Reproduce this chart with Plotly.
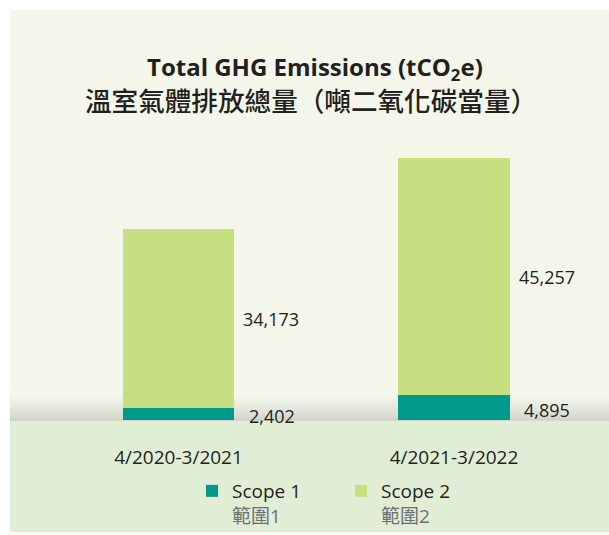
import plotly.graph_objects as go

periods = ["4/2020-3/2021", "4/2021-3/2022"]
scope1 = [2402, 4895]
scope2 = [34173, 45257]
scope1_labels = ["2,402", "4,895"]
scope2_labels = ["34,173", "45,257"]

TEAL = "#00998a"
LIME = "#c6df80"
TOP_BG = "#f3f6e9"
BOT_BG = "#e1eed6"
TXT = "#231f20"
GREY = "#6d6e71"
FONT = "Open Sans, Noto Sans CJK TC, sans-serif"

W, H = 609, 535
# panel (plot area) in window pixels: x 10..609, y 10..535
PL, PT, PR, PB = 10, 10, 609, 535
PW, PH = PR - PL, PB - PT


def yp(pix):
    return (PB - pix) / PH


def xp(pix):
    return (pix - PL) / PW


BAR_W = 0.403
x_idx = [0, 1]

fig = go.Figure()
fig.add_trace(go.Bar(
    x=x_idx, y=scope1, width=BAR_W, marker=dict(color=TEAL, line=dict(width=0)),
    name="Scope 1<br><span style='color:%s'>範圍1</span>" % GREY, hoverinfo="skip"))
fig.add_trace(go.Bar(
    x=x_idx, y=scope2, width=BAR_W, marker=dict(color=LIME, line=dict(width=0)),
    name="Scope 2<br><span style='color:%s'>範圍2</span>" % GREY, hoverinfo="skip"))

shapes = []
shapes.append(dict(type="rect", xref="paper", yref="paper", x0=0, x1=1, y0=yp(394), y1=1,
                   fillcolor=TOP_BG, line=dict(width=0), layer="below"))
shapes.append(dict(type="rect", xref="paper", yref="paper", x0=0, x1=1, y0=0, y1=yp(423),
                   fillcolor=BOT_BG, line=dict(width=0), layer="below"))
g0, g1 = 394, 423
c_top = (243, 246, 233)
c_bot = (200, 203, 190)
n = g1 - g0
for k in range(n):
    t = (k / (n - 1)) ** 1.3
    c = tuple(int(round(c_top[j] + (c_bot[j] - c_top[j]) * t)) for j in range(3))
    shapes.append(dict(type="rect", xref="paper", yref="paper", x0=0, x1=1,
                       y0=yp(g0 + k + 1), y1=yp(g0 + k),
                       fillcolor="rgb(%d,%d,%d)" % c, line=dict(width=0), layer="below"))

annotations = []
for i in x_idx:
    annotations.append(dict(x=i + BAR_W / 2 + 0.047, y=scope1[i] / 2, xref="x", yref="y",
                            text=scope1_labels[i], showarrow=False, xanchor="left",
                            yanchor="middle", yshift=-2,
                            font=dict(family=FONT, size=18, color=TXT)))
    annotations.append(dict(x=i + BAR_W / 2 + 0.0254, y=scope1[i] + scope2[i] / 2, xref="x",
                            yref="y", text=scope2_labels[i], showarrow=False, xanchor="left",
                            yanchor="middle", font=dict(family=FONT, size=18, color=TXT)))

annotations.append(dict(x=xp(315), y=yp(68), xref="paper", yref="paper",
                        text="<b>Total GHG Emissions (tCO<sub>2</sub>e)</b>", showarrow=False,
                        xanchor="center", yanchor="middle",
                        font=dict(family=FONT, size=24, color=TXT)))
annotations.append(dict(x=xp(311), y=yp(100), xref="paper", yref="paper",
                        text="溫室氣體排放總量（噸二氧化碳當量）", showarrow=False,
                        xanchor="center", yanchor="middle",
                        font=dict(family="Noto Sans CJK TC, sans-serif", size=26.6,
                                  color=TXT, weight=500)))

unit = 275.5
fig.update_layout(
    width=W, height=H,
    margin=dict(l=PL, r=W - PR, t=PT, b=H - PB),
    paper_bgcolor="white", plot_bgcolor="rgba(0,0,0,0)",
    barmode="stack", bargap=0,
    shapes=shapes, annotations=annotations,
    showlegend=True,
    legend=dict(orientation="h", x=xp(192), y=yp(475),
                xanchor="left", yanchor="top", valign="top",
                entrywidth=104, entrywidthmode="pixels",
                font=dict(family=FONT, size=19, color=TXT),
                bgcolor="rgba(0,0,0,0)", traceorder="normal"),
    xaxis=dict(range=[-(178.5 - PL) / unit, 1 + (PR - 454) / unit],
               tickmode="array", tickvals=x_idx, ticktext=periods,
               ticks="outside", ticklen=20, tickcolor="rgba(0,0,0,0)",
               showgrid=False, zeroline=False, showline=False,
               tickfont=dict(family=FONT, size=19, color=TXT), fixedrange=True),
    yaxis=dict(domain=[yp(423), yp(130)], range=[0, 55800], visible=False,
               showgrid=False, zeroline=False, fixedrange=True),
)

# remove the default 8px page margin so the 609x535 figure fills the window exactly
fig.write_html("out.html", config={"displayModeBar": False},
               post_script="document.body.style.margin='0';"
               "document.documentElement.style.overflow='hidden';")
